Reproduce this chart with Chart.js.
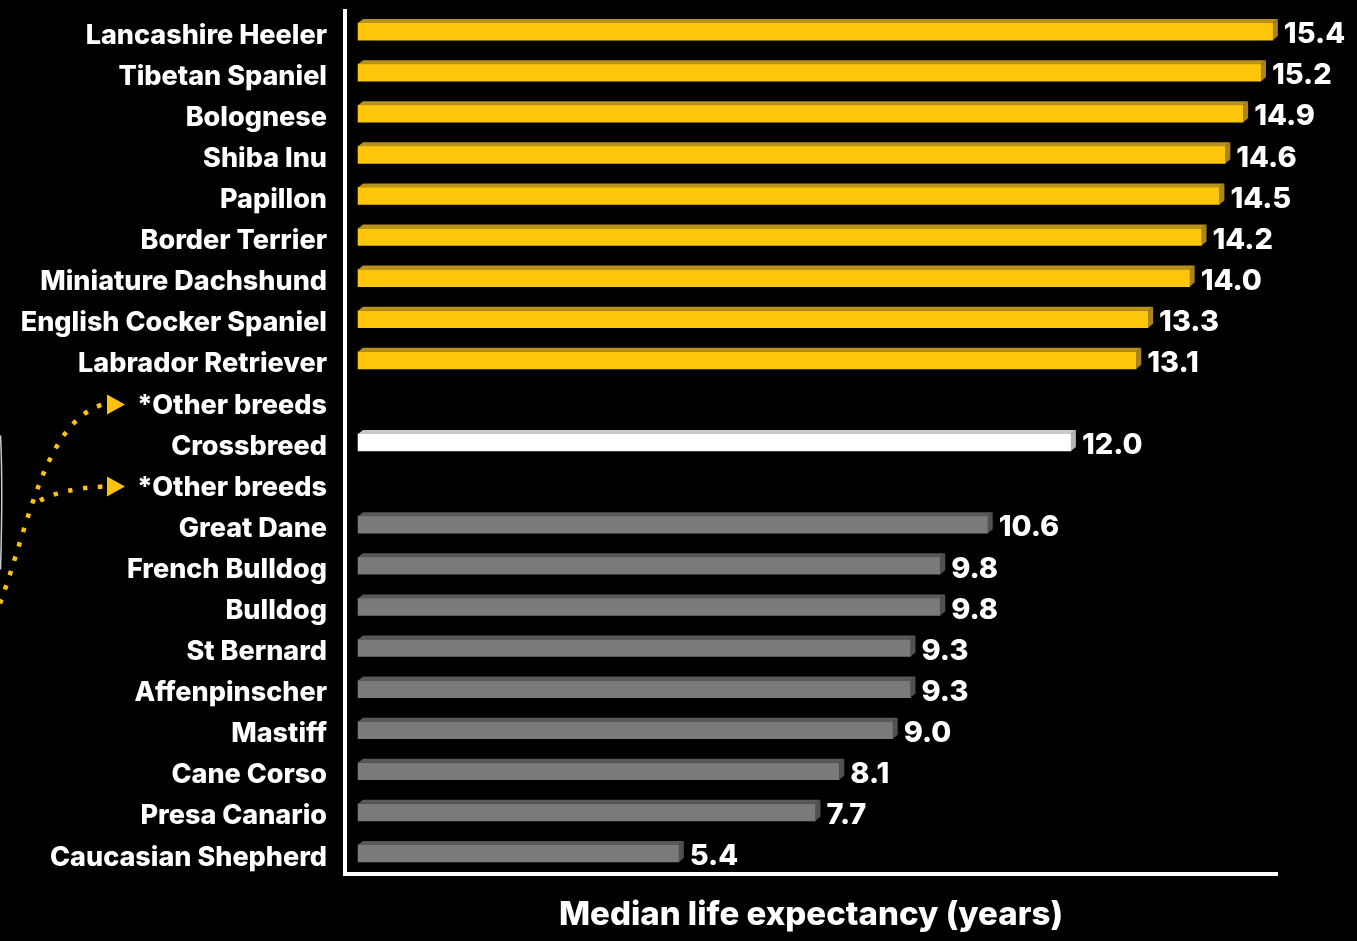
<!DOCTYPE html>
<html>
<head>
<meta charset="utf-8">
<script src="https://cdn.jsdelivr.net/npm/chart.js@4.4.1/dist/chart.umd.min.js"></script>
<style>
  html, body { margin: 0; padding: 0; background: #000; }
  #wrap { width: 1357px; height: 941px; position: relative; }
</style>
</head>
<body>
<div id="wrap"><canvas id="chart"></canvas></div>
<script>
// data
const breeds = ['Lancashire Heeler', 'Tibetan Spaniel', 'Bolognese', 'Shiba Inu', 'Papillon', 'Border Terrier',
  'Miniature Dachshund', 'English Cocker Spaniel', 'Labrador Retriever', '*Other breeds', 'Crossbreed',
  '*Other breeds', 'Great Dane', 'French Bulldog', 'Bulldog', 'St Bernard', 'Affenpinscher', 'Mastiff',
  'Cane Corso', 'Presa Canario', 'Caucasian Shepherd'];
const lifeYears = [15.4, 15.2, 14.9, 14.6, 14.5, 14.2, 14.0, 13.3, 13.1, null, 12.0, null,
  10.6, 9.8, 9.8, 9.3, 9.3, 9.0, 8.1, 7.7, 5.4];
const group = ['long', 'long', 'long', 'long', 'long', 'long', 'long', 'long', 'long', 'note', 'cross',
  'note', 'short', 'short', 'short', 'short', 'short', 'short', 'short', 'short', 'short'];
const axisTitle = 'Median life expectancy (years)';

const FONT = "'Inter', 'DejaVu Sans', sans-serif";
const LABEL_SIZE = 27;
const COLORS = {
  long:  { face: '#FDC60B', top: '#B9921D', side: '#A9851A' },
  cross: { face: '#FFFFFF', top: '#C9C9C9', side: '#B5B5B5' },
  short: { face: '#7A7A7A', top: '#595959', side: '#515151' },
  note:  { face: '#000', top: '#000', side: '#000' },
  arrow: '#FFC20E'
};
const DX = 5, DY = 4;

// 3D look: top strip + right side, plus value label
const bevelPlugin = {
  id: 'bevel',
  afterDatasetsDraw(chart) {
    const ctx = chart.ctx;
    const meta = chart.getDatasetMeta(0);
    meta.data.forEach((bar, i) => {
      const v = lifeYears[i];
      if (v === null) return;
      const c = COLORS[group[i]];
      const x0 = bar.base, x1 = bar.x;
      const top = bar.y - bar.height / 2, bottom = bar.y + bar.height / 2;
      ctx.save();
      ctx.fillStyle = c.top;
      ctx.beginPath();
      ctx.moveTo(x0, top); ctx.lineTo(x0 + DX, top - DY); ctx.lineTo(x1 + DX, top - DY); ctx.lineTo(x1, top);
      ctx.closePath(); ctx.fill();
      ctx.fillStyle = c.side;
      ctx.beginPath();
      ctx.moveTo(x1, top); ctx.lineTo(x1 + DX, top - DY); ctx.lineTo(x1 + DX, bottom - DY); ctx.lineTo(x1, bottom);
      ctx.closePath(); ctx.fill();
      ctx.fillStyle = '#fff';
      ctx.font = '800 29px ' + FONT;
      ctx.textAlign = 'left';
      ctx.textBaseline = 'middle';
      ctx.fillText(v.toFixed(1), x1 + DX + 6, bar.y + 3);
      ctx.restore();
    });
  }
};

// dotted yellow arrows pointing at the two "*Other breeds" rows
const arrowPlugin = {
  id: 'arrows',
  afterDraw(chart) {
    const ctx = chart.ctx;
    const ys = chart.scales.y;
    const idx = group.map((g, i) => g === 'note' ? i : -1).filter(i => i >= 0);
    const yUp = ys.getPixelForValue(idx[0]) + 3;
    const yLo = ys.getPixelForValue(idx[1]) + 3;
    ctx.save();
    ctx.font = '800 ' + LABEL_SIZE + 'px ' + FONT;
    const labelLeft = ys.right - 18 - ctx.measureText(breeds[idx[0]]).width;
    const tip = labelLeft - 12;
    ctx.strokeStyle = COLORS.arrow;
    ctx.lineWidth = 4.5;
    ctx.setLineDash([4.5, 10.5]);
    ctx.beginPath();
    ctx.moveTo(0, yLo + 117);
    ctx.bezierCurveTo(30, yLo + 34, 45, yUp + 18, tip - 22, yUp);
    ctx.stroke();
    ctx.beginPath();
    ctx.moveTo(40, yLo + 14);
    ctx.quadraticCurveTo(62, yLo + 2, tip - 22, yLo);
    ctx.stroke();
    ctx.setLineDash([]);
    ctx.fillStyle = COLORS.arrow;
    [yUp, yLo].forEach(y => {
      ctx.beginPath();
      ctx.moveTo(tip, y); ctx.lineTo(tip - 18, y - 10); ctx.lineTo(tip - 18, y + 10);
      ctx.closePath(); ctx.fill();
    });
    // thin white sliver at the left edge
    ctx.strokeStyle = 'rgba(255,255,255,.8)';
    ctx.lineWidth = 1.5;
    ctx.beginPath();
    ctx.moveTo(0.5, yUp + 31);
    ctx.quadraticCurveTo(3, (yUp + yLo) / 2 + 40, 0.5, yLo + 83);
    ctx.stroke();
    ctx.restore();
  }
};

new Chart('chart', {
  type: 'bar',
  data: {
    labels: breeds,
    datasets: [{
      data: lifeYears,
      backgroundColor: group.map(g => COLORS[g].face),
      barThickness: 17,
      borderWidth: 0
    }]
  },
  options: {
    indexAxis: 'y',
    responsive: true, maintainAspectRatio: false,
    animation: false,
    layout: { padding: { top: 11, right: 80, left: 0, bottom: 0 } },
    plugins: { legend: { display: false }, tooltip: { enabled: false } },
    scales: {
      x: {
        min: -0.22, max: 15.47,
        grid: { display: false, drawTicks: false },
        border: { color: '#fff', width: 4 },
        ticks: { display: false },
        title: { display: true, text: axisTitle, color: '#fff', font: { family: FONT, size: 33, weight: '800' }, padding: { top: 0, bottom: 6 } },
        afterFit(scale) { scale.height = 67; }
      },
      y: {
        grid: { display: false, drawTicks: false },
        border: { color: '#fff', width: 4 },
        ticks: { color: '#fff', padding: 18, labelOffset: 4, font: { family: FONT, size: LABEL_SIZE, weight: '800' } },
        afterFit(scale) { scale.width = 345; scale.paddingTop = 0; scale.paddingBottom = 0; }
      }
    }
  },
  plugins: [bevelPlugin, arrowPlugin]
});
</script>
</body>
</html>
